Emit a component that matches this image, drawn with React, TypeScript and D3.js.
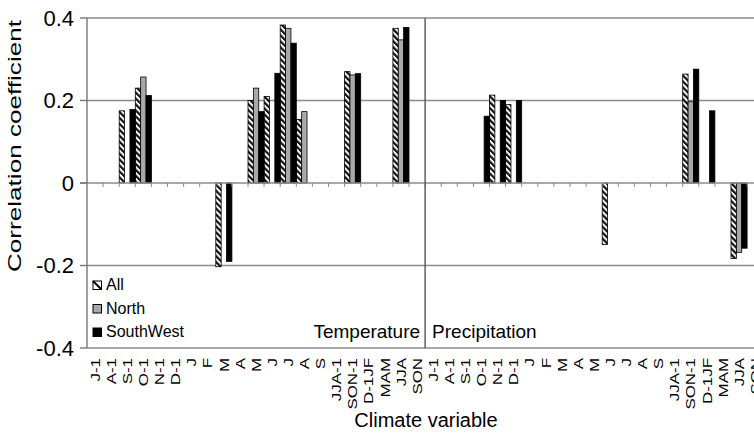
import React, { useRef, useEffect } from 'react';
import * as d3 from 'd3';

// category labels, same for both climate variables
const months = ['J-1', 'A-1', 'S-1', 'O-1', 'N-1', 'D-1', 'J', 'F', 'M', 'A', 'M', 'J', 'J', 'A', 'S', 'JJA-1', 'SON-1', 'D-1JF', 'MAM', 'JJA', 'SON'];
const series = ['All', 'North', 'SouthWest'];
const groups = ['Temperature', 'Precipitation'];
const yTicks = [-0.4, -0.2, 0, 0.2, 0.4];

// correlation values (null = not significant / not drawn)
const tempAll = [null, null, 0.175, 0.23, null, null, null, null, -0.203, null, 0.2, 0.21, 0.383, 0.154, null, null, 0.27, null, null, 0.375, null];
const tempNorth = [null, null, null, 0.257, null, null, null, null, null, null, 0.23, null, 0.375, 0.173, null, null, 0.262, null, null, 0.347, null];
const tempSW = [null, null, 0.178, 0.212, null, null, null, null, -0.19, null, 0.173, 0.266, 0.339, null, null, null, 0.265, null, null, 0.377, null];
const precAll = [null, null, null, null, 0.213, 0.19, null, null, null, null, null, -0.149, null, null, null, null, 0.264, null, null, -0.183, null];
const precNorth = [null, null, null, null, null, null, null, null, null, null, null, null, null, null, null, null, 0.197, null, null, -0.168, null];
const precSW = [null, null, null, 0.162, 0.2, 0.2, null, null, null, null, null, null, null, null, null, null, 0.276, 0.175, null, -0.158, null];

const W = 754, H = 433;
const left = 87, top = 18, bottom = 348, catW = 16.1;

const App = () => {
    const svgRef = useRef<SVGSVGElement>(null);

    useEffect(() => {
        const svg = d3.select(svgRef.current);
        svg.selectAll('*').remove();

        const cats = [...months, ...months].map((m, i) => ({ key: i, label: m }));
        const x = d3.scaleBand<number>()
            .domain(cats.map(c => c.key))
            .range([left, left + cats.length * catW])
            .padding(0);
        const xSub = d3.scaleBand<string>().domain(series).range([0, x.bandwidth()]).padding(0);
        const y = d3.scaleLinear().domain([-0.4, 0.4]).range([bottom, top]);

        const fills: Record<string, string> = { All: 'url(#hatch)', North: '#a9a9a9', SouthWest: '#000' };

        const defs = svg.append('defs');
        const pat = defs.append('pattern')
            .attr('id', 'hatch').attr('patternUnits', 'userSpaceOnUse')
            .attr('width', 4.2).attr('height', 4.2)
            .attr('patternTransform', 'rotate(-45)');
        pat.append('rect').attr('width', 4.2).attr('height', 4.2).attr('fill', '#fff');
        pat.append('rect').attr('width', 2.2).attr('height', 4.2).attr('fill', '#111');
        defs.append('clipPath').attr('id', 'plot').append('rect')
            .attr('x', 0).attr('y', 0).attr('width', W).attr('height', H);

        const g = svg.append('g').attr('clip-path', 'url(#plot)');

        // gridlines
        g.selectAll('.grid').data(yTicks.filter(v => v !== 0)).join('line')
            .attr('x1', left).attr('x2', W)
            .attr('y1', d => y(d)).attr('y2', d => y(d))
            .attr('stroke', '#8c8c8c').attr('stroke-width', 1.4);

        // bars
        const rows: { key: number; s: string; v: number }[] = [];
        const data = [[tempAll, tempNorth, tempSW], [precAll, precNorth, precSW]];
        data.forEach((set, gi) => set.forEach((vals, si) => vals.forEach((v, i) => {
            if (v !== null) rows.push({ key: gi * months.length + i, s: series[si], v });
        })));
        g.selectAll('.bar').data(rows).join('rect')
            .attr('x', d => (x(d.key) as number) + (xSub(d.s) as number))
            .attr('width', xSub.bandwidth())
            .attr('y', d => y(Math.max(0, d.v)))
            .attr('height', d => Math.abs(y(d.v) - y(0)))
            .attr('fill', d => fills[d.s])
            .attr('stroke', '#000').attr('stroke-width', 0.8);

        // zero line with category ticks
        g.append('line').attr('x1', left - 7).attr('x2', W)
            .attr('y1', y(0)).attr('y2', y(0)).attr('stroke', '#8c8c8c').attr('stroke-width', 1.4);
        g.selectAll('.ztick').data(cats.slice(1)).join('line')
            .attr('x1', d => x(d.key) as number).attr('x2', d => x(d.key) as number)
            .attr('y1', y(0)).attr('y2', y(0) + 4)
            .attr('stroke', '#8c8c8c').attr('stroke-width', 1);

        // y axis
        g.append('line').attr('x1', left).attr('x2', left).attr('y1', top).attr('y2', bottom)
            .attr('stroke', '#777').attr('stroke-width', 1.4);
        g.selectAll('.ytick').data(yTicks).join('line')
            .attr('x1', left - 7).attr('x2', left)
            .attr('y1', d => y(d)).attr('y2', d => y(d))
            .attr('stroke', '#777').attr('stroke-width', 1.4);
        g.selectAll('.ylab').data(yTicks).join('text')
            .attr('x', left - 13).attr('y', d => y(d)).attr('dy', '0.36em')
            .attr('text-anchor', 'end').attr('font-size', 22)
            .text(d => d === 0 ? '0' : d.toFixed(1));

        // divider between the two variables
        const divX = x(months.length) as number;
        g.append('line').attr('x1', divX).attr('x2', divX).attr('y1', top).attr('y2', bottom)
            .attr('stroke', '#555').attr('stroke-width', 1.4);

        // x category labels
        g.selectAll('.xlab').data(cats).join('text')
            .attr('transform', d => `translate(${(x(d.key) as number) + x.bandwidth() / 2},${bottom + 10}) rotate(-90) scale(1.3,1)`)
            .attr('dy', '0.36em').attr('text-anchor', 'end').attr('font-size', 13)
            .text(d => d.label);

        // group names
        g.append('text').attr('x', divX - 5).attr('y', 338).attr('text-anchor', 'end')
            .attr('font-size', 19).text(groups[0]);
        g.append('text').attr('x', divX + 7).attr('y', 338)
            .attr('font-size', 19).text(groups[1]);

        // legend
        const leg = g.selectAll('.leg').data(series).join('g')
            .attr('transform', (d, i) => `translate(93,${281 + i * 23.5})`);
        leg.append('rect').attr('width', 8.5).attr('height', 8.5)
            .attr('fill', d => d === 'All' ? '#fff' : fills[d]).attr('stroke', '#000').attr('stroke-width', 1);
        leg.filter(d => d === 'All').append('line')
            .attr('x1', 0).attr('y1', 0).attr('x2', 8.5).attr('y2', 8.5).attr('stroke', '#000').attr('stroke-width', 2);
        leg.append('text').attr('x', 13).attr('y', 9).attr('font-size', 16).text(d => d);

        // axis titles
        g.append('text').attr('transform', `translate(21,146) rotate(-90)`)
            .attr('text-anchor', 'middle').attr('font-size', 19)
            .attr('textLength', 252).attr('lengthAdjust', 'spacingAndGlyphs')
            .text('Correlation coefficient');
        g.append('text').attr('x', 426).attr('y', 427).attr('text-anchor', 'middle')
            .attr('font-size', 20).text('Climate variable');
    }, []);

    return (
        <svg ref={svgRef} width={W} height={H}
             style={{ position: 'absolute', left: 0, top: 0, background: '#fff', fontFamily: '"Liberation Sans", Arial, sans-serif' }} />
    );
};

export default App;
